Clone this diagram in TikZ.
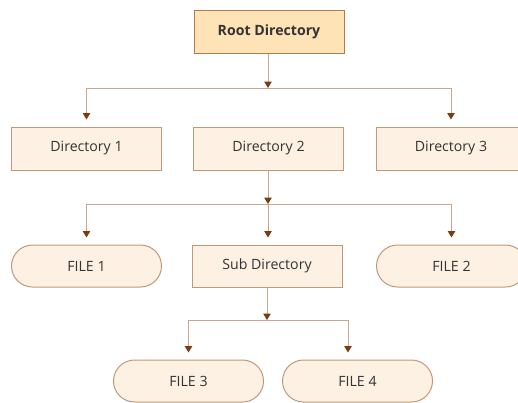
\documentclass[tikz,border=0pt]{standalone}
\usepackage{fontspec}
\setmainfont{Open Sans}
\usetikzlibrary{arrows.meta,shapes.misc}
\definecolor{rootfill}{HTML}{FDE3B6}
\definecolor{rootdraw}{HTML}{B07A4C}
\definecolor{boxfill}{HTML}{FDF1E3}
\definecolor{boxdraw}{HTML}{C29878}
\definecolor{linecol}{HTML}{C8A691}
\definecolor{tipcol}{HTML}{7A3A12}
\definecolor{textcol}{HTML}{333333}
\begin{document}
\begin{tikzpicture}[x=1bp,y=-1bp,
  box/.style={draw=boxdraw, fill=boxfill, line width=1bp, minimum width=150bp,
    minimum height=43bp, inner sep=0pt, font=\fontsize{14.2}{16}\selectfont, text=textcol},
  rootbox/.style={box, fill=rootfill, draw=rootdraw, font=\fontsize{14.2}{16}\selectfont\bfseries},
  filebox/.style={box, rounded rectangle, minimum height=42bp},
  conn/.style={draw=linecol, line width=1bp},
  arr/.style={conn, -{Triangle[width=7.5bp,length=6.5bp,fill=tipcol,color=tipcol]}}
]
\useasboundingbox (0,0) rectangle (518,402);
\node[rootbox] (root) at (269,31.5) {Root Directory};
\node[box] (dir1) at (86.5,148.5) {Directory 1};
\node[box] (dir2) at (268.5,148.5) {Directory 2};
\node[box] (dir3) at (451,148.5) {Directory 3};
\node[filebox] (file1) at (86.5,266) {FILE 1};
\node[box, minimum height=42bp] (sub) at (267,266) {Sub Directory};
\node[filebox] (file2) at (451.5,266) {FILE 2};
\node[filebox] (file3) at (188.5,381) {FILE 3};
\node[filebox] (file4) at (357.5,381) {FILE 4};
\coordinate (j1) at (268,88);
\coordinate (j2) at (268,204);
\coordinate (j3) at (267,320);
% root level
\draw[arr] (root.south -| j1) -- (j1);
\draw[arr] (j1) -| ([yshift=7bp]dir1.north);
\draw[arr] (j1) -| ([yshift=7bp]dir3.north);
% directory 2 level
\draw[arr] (dir2.south -| j2) -- (j2);
\draw[arr] (j2) -| ([yshift=7bp]file1.north);
\draw[arr] (j2) -| ([yshift=7bp]file2.north);
\draw[arr] (j2) -- ([yshift=7bp]sub.north -| j2);
% sub directory level
\draw[arr] (sub.south -| j3) -- (j3);
\draw[arr] (j3) -| ([yshift=7bp]file3.north);
\draw[arr] (j3) -| ([xshift=-9.5bp,yshift=7bp]file4.north);
\end{tikzpicture}
\end{document}
